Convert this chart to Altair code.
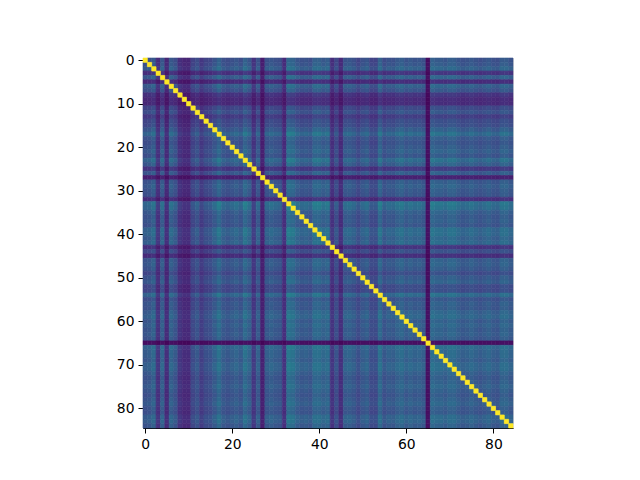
import altair as alt
import pandas as pd

# per-variable correlation strength (index 0..84)
levels = [
 0.48,0.50,0.57,0.27,0.55,0.23,0.56,0.48,0.28,0.22, # 0-9
 0.22,0.40,0.47,0.33,0.42,0.44,0.53,0.64,0.51,0.47, # 10-19
 0.51,0.55,0.49,0.64,0.55,0.30,0.52,0.16,0.51,0.55, # 20-29
 0.51,0.49,0.25,0.68,0.65,0.55,0.51,0.53,0.49,0.63, # 30-39
 0.63,0.57,0.61,0.27,0.44,0.24,0.53,0.55,0.51,0.42, # 40-49
 0.51,0.55,0.42,0.42,0.63,0.47,0.53,0.51,0.57,0.61, # 50-59
 0.53,0.57,0.53,0.55,0.51,0.07,0.63,0.59,0.59,0.55, # 60-69
 0.61,0.61,0.55,0.51,0.53,0.57,0.53,0.49,0.53,0.57, # 70-79
 0.51,0.49,0.59,0.59,0.53,                          # 80-84
]
x_ticks = [0, 20, 40, 60, 80]
y_ticks = [0, 10, 20, 30, 40, 50, 60, 70, 80]

n = len(levels)
off_diag, diag = [], []
for i in range(n):
    for j in range(n):
        rec = {"col": j - 0.5, "col2": j + 0.5, "row": i - 0.5, "row2": i + 0.5}
        if i == j:
            rec["v"] = 1.0
            diag.append(rec)
        else:
            rec["v"] = levels[i] * levels[j]
            off_diag.append(rec)
df = pd.DataFrame(off_diag + diag)

color_scale = alt.Scale(scheme="viridis", domain=[0, 1])
chart = (
    alt.Chart(df)
    .mark_rect(strokeWidth=0.6)
    .encode(
        x=alt.X("col:Q", scale=alt.Scale(domain=[-0.5, 84.5], nice=False, zero=False),
                axis=alt.Axis(values=x_ticks, grid=False, title=None, format="d", labelFont="DejaVu Sans",
                              labelFontSize=13.9, labelColor="black", tickColor="black", tickSize=5,
                              labelPadding=4, domainColor="black", labelFlush=False)),
        x2="col2:Q",
        y=alt.Y("row:Q", scale=alt.Scale(domain=[-0.5, 84.5], reverse=True, nice=False, zero=False),
                axis=alt.Axis(values=y_ticks, grid=False, title=None, format="d", labelFont="DejaVu Sans",
                              labelFontSize=13.9, labelColor="black", tickColor="black", tickSize=5,
                              labelPadding=4, domainColor="black")),
        y2="row2:Q",
        color=alt.Color("v:Q", scale=color_scale, legend=None),
        stroke=alt.Color("v:Q", scale=color_scale, legend=None),
    )
    .properties(width=370, height=370)
    .configure_view(stroke="black", strokeWidth=1)
    .configure(background="white", padding={"left": 108, "top": 45, "right": 0, "bottom": 0})
)
chart.save("out.html", embed_options={"renderer": "svg", "actions": False})
